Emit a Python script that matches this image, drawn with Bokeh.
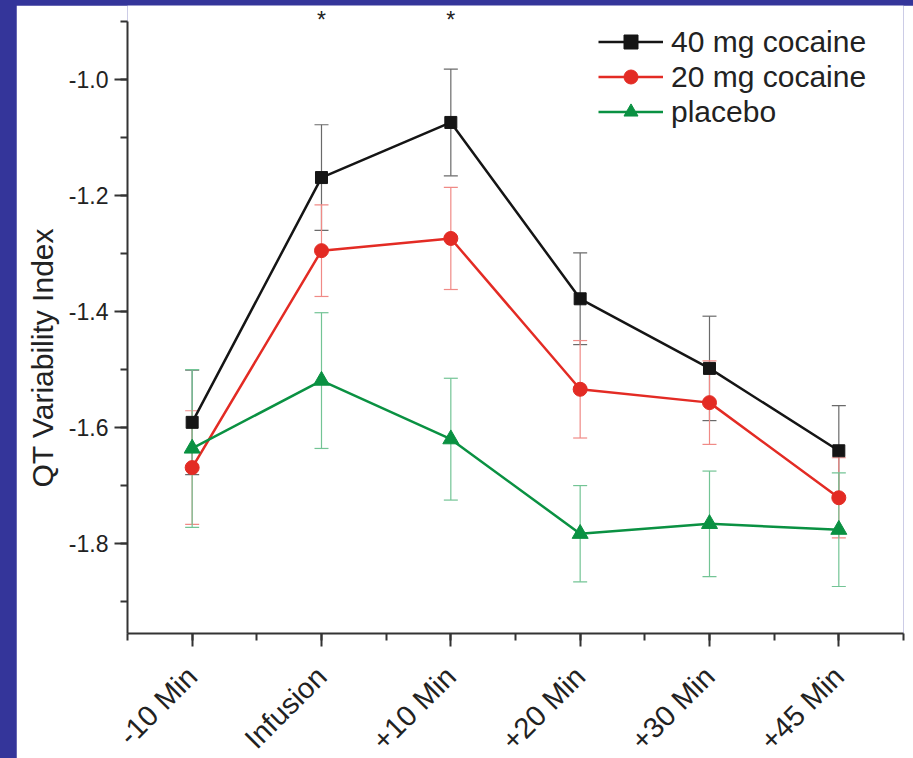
import math
from bokeh.plotting import figure
from bokeh.models import (ColumnDataSource, Whisker, TeeHead, Label, Legend, LegendItem,
                          SingleIntervalTicker, PrintfTickFormatter, Range1d, Title)
from bokeh.embed import file_html
from bokeh.resources import INLINE

# ---- data ----
time_points = ["-10 Min", "Infusion", "+10 Min", "+20 Min", "+30 Min", "+45 Min"]
x_idx = [0, 1, 2, 3, 4, 5]

cocaine_40 = [-1.591, -1.169, -1.074, -1.378, -1.498, -1.640]
cocaine_40_err = [0.090, 0.091, 0.092, 0.079, 0.090, 0.078]
cocaine_20 = [-1.669, -1.295, -1.274, -1.534, -1.557, -1.721]
cocaine_20_err = [0.098, 0.079, 0.088, 0.084, 0.072, 0.069]
placebo = [-1.636, -1.519, -1.620, -1.783, -1.766, -1.776]
placebo_err = [0.136, 0.117, 0.105, 0.083, 0.091, 0.098]

series_names = ["40 mg cocaine", "20 mg cocaine", "placebo"]
significant_x = [1, 2]

FONT = "Liberation Sans"
TXT = "#222222"
PAGE_BG = "#34359a"

p = figure(frame_width=776, frame_height=628,
           x_range=Range1d(-0.5, 5.5001), y_range=Range1d(-1.955, -0.8724),
           min_border_left=111, min_border_right=10, min_border_top=0, min_border_bottom=125,
           output_backend="svg", toolbar_location=None)

p.xgrid.visible = False
p.ygrid.visible = False
p.outline_line_color = None
p.background_fill_color = "white"
p.border_fill_color = "white"

for ax in (p.xaxis[0], p.yaxis[0]):
    ax.axis_line_width = 2
    ax.axis_line_color = "#333333"
    ax.major_tick_line_width = 2
    ax.minor_tick_line_width = 2
    ax.major_tick_line_color = "#333333"
    ax.minor_tick_line_color = "#333333"
    ax.major_tick_in = 0
    ax.major_tick_out = 13
    ax.minor_tick_in = 0
    ax.minor_tick_out = 7
    ax.major_label_text_font = FONT
    ax.major_label_text_color = TXT

p.xaxis.ticker = SingleIntervalTicker(interval=1, num_minor_ticks=2)
p.xaxis.major_label_overrides = {i: t for i, t in zip(x_idx, time_points)}
p.xaxis.major_label_orientation = math.pi / 4
p.xaxis.major_label_text_font_size = "29px"
p.xaxis.major_label_standoff = 25

p.yaxis.ticker = SingleIntervalTicker(interval=0.2, num_minor_ticks=2)
p.yaxis.formatter = PrintfTickFormatter(format="%.1f")
p.yaxis.major_label_text_font_size = "23px"
p.yaxis.major_label_standoff = 6
p.yaxis.bounds = (-1.955, -0.8995)

styles = [
    (cocaine_40, cocaine_40_err, "#151515", "#6a6a6a", "square", 12),
    (cocaine_20, cocaine_20_err, "#e32b24", "#f08a86", "circle", 14),
    (placebo, placebo_err, "#0a9142", "#73c495", "triangle", 16),
]

# error bars (behind)
for vals, errs, col, ecol, mk, sz in styles:
    src = ColumnDataSource(dict(x=x_idx,
                                upper=[v + e for v, e in zip(vals, errs)],
                                lower=[v - e for v, e in zip(vals, errs)]))
    w = Whisker(source=src, base="x", upper="upper", lower="lower", dimension="height",
                line_color=ecol, line_width=1.2, level="underlay",
                upper_head=TeeHead(size=14, line_color=ecol, line_width=1.2),
                lower_head=TeeHead(size=14, line_color=ecol, line_width=1.2))
    p.add_layout(w)

items = []
for (vals, errs, col, ecol, mk, sz), name in zip(styles, series_names):
    src = ColumnDataSource(dict(x=x_idx, y=vals))
    ln = p.line("x", "y", source=src, line_color=col, line_width=2.5)
    sc = p.scatter("x", "y", source=src, marker=mk, size=sz, fill_color=col, line_color=col)
    items.append(LegendItem(label=name, renderers=[ln, sc]))

legend = Legend(items=items, location=(471, 504), glyph_width=65, glyph_height=35,
                label_height=35, spacing=0, padding=0, margin=0, label_standoff=8,
                label_text_font_size="30px", label_text_font=FONT, label_text_color=TXT,
                border_line_color=None, background_fill_alpha=0)
p.add_layout(legend)

for sx in significant_x:
    p.add_layout(Label(x=sx, y=-0.897, text="*", text_align="center",
                       text_baseline="alphabetic", text_font_size="23px",
                       text_font=FONT, text_color=TXT))

ytitle = Title(text="QT Variability Index", align="left", offset=146,
               text_font_size="30px", text_font=FONT, text_font_style="normal",
               text_color=TXT, standoff=13)
p.add_layout(ytitle, "left")

html = file_html(p, INLINE)
page_style = ("<style>html,body{background-color:%s !important;}"
              "body{margin:5px 0 0 16px !important;overflow:hidden !important;}</style>" % PAGE_BG)
html = html.replace("</head>", page_style + "</head>", 1)
open("out.html", "w").write(html)
